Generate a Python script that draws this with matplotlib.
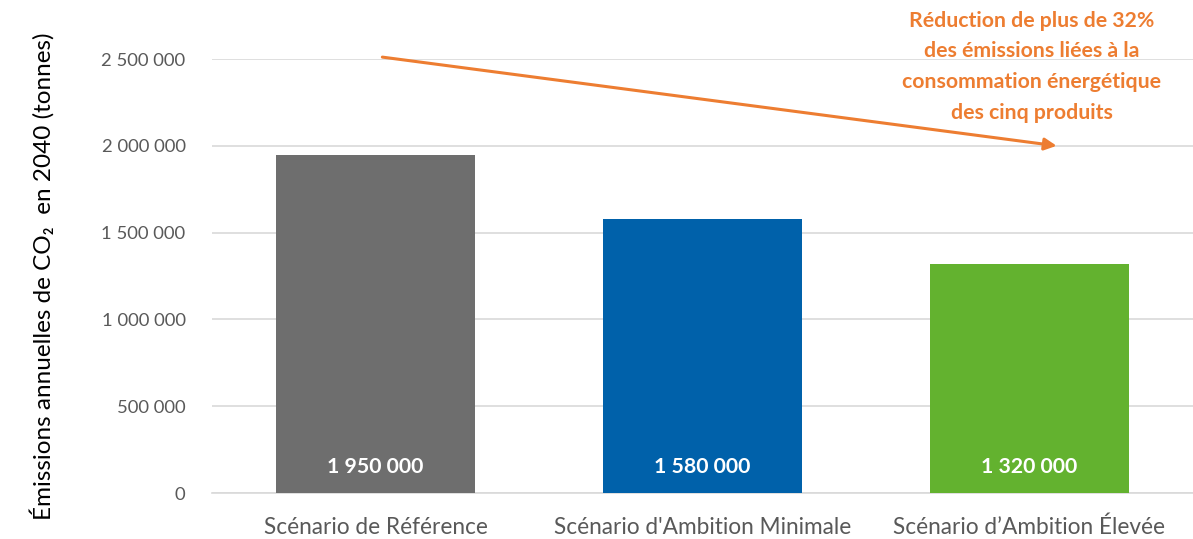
import matplotlib
matplotlib.use('Agg')
import matplotlib.pyplot as plt

# Scenario data (tonnes of CO2 in 2040)
scenarios = ["Scénario de Référence", "Scénario d'Ambition Minimale", "Scénario d\u2019Ambition Élevée"]
emissions = [1950000, 1580000, 1320000]
bar_colors = ['#6E6E6E', '#0061AA', '#63B22F']
y_ticks = [0, 500000, 1000000, 1500000, 2000000, 2500000]

FONT = ['Lato', 'DejaVu Sans']
plt.rcParams['font.family'] = FONT


def fmt(v):
    # French style thousands separator (space)
    return f"{v:,}".replace(",", " ")


fig = plt.figure(figsize=(11.93, 5.39), dpi=100)
ax = fig.add_axes([0.1777, 0.0853, 0.8223, 0.8052])

x = list(range(len(scenarios)))
ax.bar(x, emissions, width=0.61, color=bar_colors, zorder=3)

ax.set_xlim(-0.5, 2.5)
ax.set_ylim(0, 2500000)
ax.set_yticks(y_ticks)
ax.set_yticklabels([fmt(v) for v in y_ticks], fontsize=13.3, color='#595959')
ax.set_xticks(x)
ax.set_xticklabels(scenarios, fontsize=16.3, color='#595959')
ax.tick_params(axis='y', length=0, pad=19)
ax.tick_params(axis='x', length=0, pad=17)

ax.grid(axis='y', color='#D9D9D9', linewidth=1.2, zorder=0)
for side in ['top', 'right', 'left']:
    ax.spines[side].set_visible(False)
ax.spines['bottom'].set_color('#D9D9D9')
ax.spines['bottom'].set_linewidth(1.2)

# value labels inside bars
for xi, v in zip(x, emissions):
    ax.text(xi, 150000, fmt(v), ha='center', va='center', color='white',
            fontsize=15.3, fontweight='bold', zorder=4)

ax.set_ylabel("Émissions annuelles de CO\u2082  en 2040 (tonnes)", fontsize=17.5,
              color='black', labelpad=34)

# reduction arrow + note
orange = '#ED7D31'
ax.annotate('', xy=(2.083, 2000000), xytext=(0.021, 2511000),
            arrowprops=dict(arrowstyle='-|>', color=orange, lw=2.2,
                            mutation_scale=18, shrinkA=0, shrinkB=0),
            annotation_clip=False, zorder=5)
ax.text(2.006, 2455000,
        "Réduction de plus de 32%\ndes émissions liées à la\nconsommation énergétique\ndes cinq produits",
        ha='center', va='center', color=orange, fontsize=15.3, fontweight='bold',
        linespacing=1.68, clip_on=False)

fig.savefig('out.png', dpi=100)
